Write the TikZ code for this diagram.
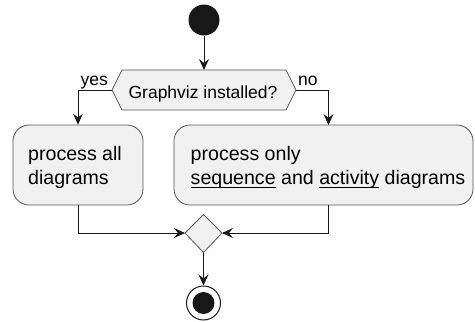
\documentclass[tikz,border=0pt]{standalone}
\usepackage{fontspec}
\setmainfont{Liberation Sans}
\usetikzlibrary{arrows.meta}
\definecolor{boxfill}{HTML}{F1F1F1}
\definecolor{ink}{HTML}{181818}
\definecolor{edge}{HTML}{555555}
\newcommand\ulword[1]{\setbox0\hbox{#1}\rlap{\rule[-3.2pt]{\wd0}{1pt}}#1}
\begin{document}
\begin{tikzpicture}[x=1pt,y=-1pt,
  arr/.style={draw=ink,line width=1pt,-{Stealth[length=11pt,width=10pt,inset=4pt]}},
  shapeline/.style={draw=edge,fill=boxfill,line width=0.8pt},
  actbox/.style={shapeline,rounded corners=16pt,inner sep=0pt},
  acttext/.style={font=\fontsize{19.6}{24.5}\selectfont,align=left,anchor=base west,inner sep=0pt,text=black},
  small/.style={font=\fontsize{17.5}{20}\selectfont,inner sep=0pt,text=black}]
\useasboundingbox (0,0) rectangle (475,322);
% start
\node[circle,fill=ink,minimum size=31pt,inner sep=0pt] (start) at (204,20) {};
% decision hexagon
\coordinate (hl) at (112,90);
\coordinate (hr) at (296,90);
\coordinate (ht) at (204,70);
\draw[shapeline] (hl) -- (122,70) -- (286,70) -- (hr) -- (286,110) -- (122,110) -- cycle;
\node[small,anchor=base] (dq) at (203,98) {Graphviz installed?};
% labels
\node[small,anchor=base west] (yes) at (80.5,85) {yes};
\node[small,anchor=base west] (no) at (298,85) {no};
% activity boxes
\node[actbox,minimum width=130pt,minimum height=80pt] (b1) at (78,165) {};
\node[acttext] (t1) at (28,184.5) {process all\\diagrams};
\node[actbox,minimum width=299pt,minimum height=80pt] (b2) at (323.5,165) {};
\node[acttext] (t2) at (190.5,184.5) {process only\\\ulword{sequence} and \ulword{activity} diagrams};
\coordinate (b2top) at (328.5,125);
\coordinate (b2bot) at (328.5,205);
% merge diamond
\coordinate (mc) at (203.5,233);
\coordinate (ml) at (185,233);
\coordinate (mr) at (222,233);
\coordinate (mt) at (203.5,214.5);
\coordinate (mb) at (203.5,252.5);
\draw[shapeline] (ml) -- (mt) -- (mr) -- (mb) -- cycle;
% end
\node[circle,draw=ink,fill=white,line width=1pt,minimum size=34pt,inner sep=0pt] (end) at (203.5,303) {};
\node[circle,fill=ink,minimum size=22pt,inner sep=0pt] (endin) at (end.center) {};
% connectors
\draw[arr] (start.south) -- (ht);
\draw[arr] (hl) -| (b1.north);
\draw[arr] (hr) -| (b2top);
\draw[arr] (b1.south) |- (ml);
\draw[arr] (b2bot) |- (mr);
\draw[arr] (mb) -- (end.north);
\end{tikzpicture}
\end{document}
